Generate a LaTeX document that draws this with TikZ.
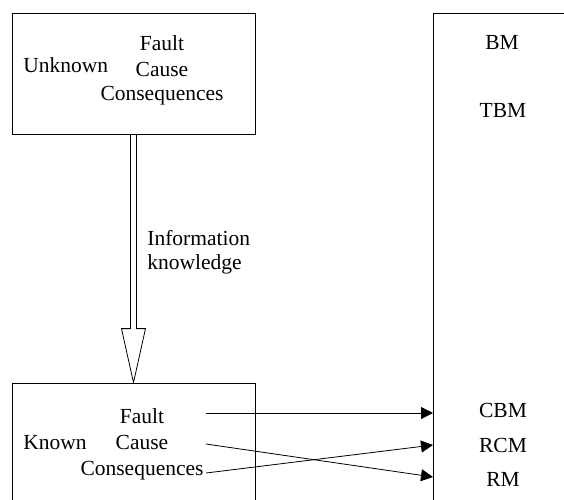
\documentclass[tikz,border=0pt]{standalone}
\usepackage{fontspec}
\setmainfont{Liberation Serif}
\usetikzlibrary{calc, arrows.meta}

\begin{document}
\begin{tikzpicture}[x=1pt,y=-1pt,line width=0.8pt,
        lbl/.style={inner sep=0pt,anchor=base,font=\fontsize{21.5}{25}\selectfont},
        flow/.style={-{Triangle[length=12pt,width=12pt]}},
        box/.style={draw,inner sep=0pt}]
    \useasboundingbox (0,0) rectangle (564,499);
    \clip (0,0) rectangle (564,499);
    % boxes
    \node[box,minimum width=243pt,minimum height=121pt] (unkbox) at (133.5,73.5) {};
    \node[box,minimum width=243pt,minimum height=137pt] (knbox) at (133.5,451.5) {};
    \node[box,minimum width=167pt,minimum height=507pt] (mbox) at (516.5,266.5) {};

    % unknown side
    \node[lbl,anchor=base west] (unk) at (23,72) {Unknown};
    \node[lbl] (ufault) at (162,50) {Fault};
    \node[lbl] (ucause) at (162,76) {Cause};
    \node[lbl] (ucons) at (162,100) {Consequences};

    % double arrow
    \draw ($(unkbox.south)+(-3,0)$) -- ($(knbox.north)+(-3,-54)$) -- ++(-9,0)
        -- (knbox.north) -- ($(knbox.north)+(12,-54)$) -- ++(-9,0)
        -- ($(unkbox.south)+(3,0)$);
    \node[lbl,anchor=base west] (info) at (147,245) {Information};
    \node[lbl,anchor=base west] (know) at (147,269) {knowledge};

    % known side
    \node[lbl,anchor=base west] (kn) at (23,449) {Known};
    \node[lbl] (kfault) at (142,423) {Fault};
    \node[lbl] (kcause) at (142,449) {Cause};
    \node[lbl] (kcons) at (142,475) {Consequences};

    % maintenance types
    \node[lbl] (bm) at (502,49) {BM};
    \node[lbl] (tbm) at (503,117) {TBM};
    \node[lbl] (cbm) at (503,417) {CBM};
    \node[lbl] (rcm) at (503,452) {RCM};
    \node[lbl] (rm) at (503,486) {RM};

    \coordinate (ofault) at (206,413);
    \coordinate (ocause) at (206,444);
    \coordinate (ocons) at (206,473);
    \coordinate (icbm) at (433,413);
    \coordinate (ircm) at (433,445);
    \coordinate (irm) at (433,477);

    \draw[flow] (ofault)--(icbm);
    \draw[flow] (ocause)--(irm);
    \draw[flow] (ocons)--(ircm);
\end{tikzpicture}
\end{document}
